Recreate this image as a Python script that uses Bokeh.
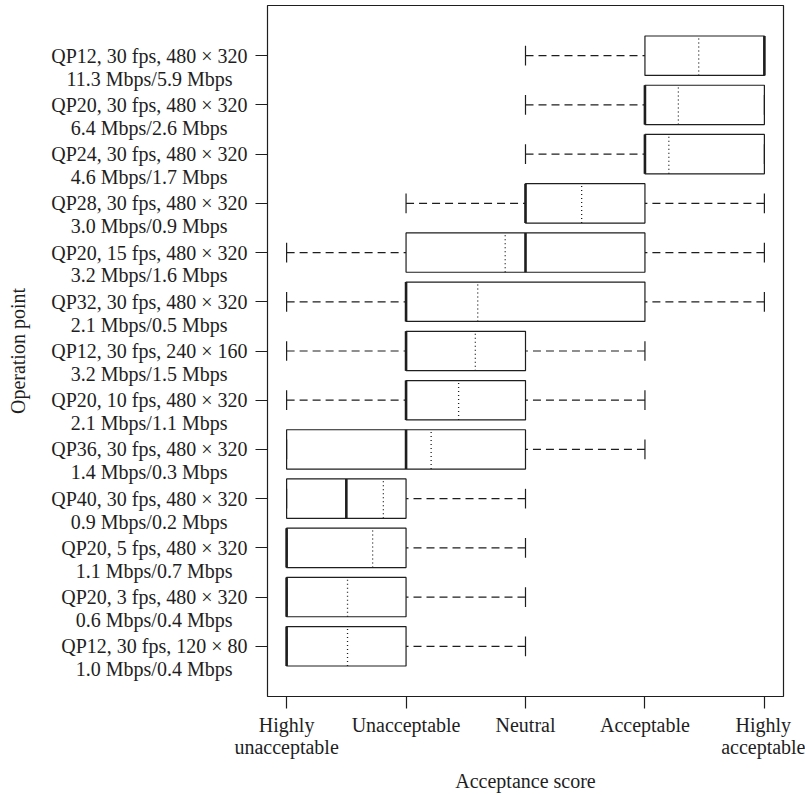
from bokeh.plotting import figure
from bokeh.models import ColumnDataSource, FixedTicker, Range1d
from bokeh.embed import file_html
from bokeh.resources import INLINE

# Operation points, listed from the top row to the bottom row
op_points = [
    "QP12, 30 fps, 480 × 320",
    "QP20, 30 fps, 480 × 320",
    "QP24, 30 fps, 480 × 320",
    "QP28, 30 fps, 480 × 320",
    "QP20, 15 fps, 480 × 320",
    "QP32, 30 fps, 480 × 320",
    "QP12, 30 fps, 240 × 160",
    "QP20, 10 fps, 480 × 320",
    "QP36, 30 fps, 480 × 320",
    "QP40, 30 fps, 480 × 320",
    "QP20, 5 fps, 480 × 320",
    "QP20, 3 fps, 480 × 320",
    "QP12, 30 fps, 120 × 80",
]
bitrates = [
    "11.3 Mbps/5.9 Mbps",
    "6.4 Mbps/2.6 Mbps",
    "4.6 Mbps/1.7 Mbps",
    "3.0 Mbps/0.9 Mbps",
    "3.2 Mbps/1.6 Mbps",
    "2.1 Mbps/0.5 Mbps",
    "3.2 Mbps/1.5 Mbps",
    "2.1 Mbps/1.1 Mbps",
    "1.4 Mbps/0.3 Mbps",
    "0.9 Mbps/0.2 Mbps",
    "1.1 Mbps/0.7 Mbps",
    "0.6 Mbps/0.4 Mbps",
    "1.0 Mbps/0.4 Mbps",
]

# Box-plot statistics of the acceptance score (1 = highly unacceptable ... 5 = highly acceptable)
score_min = [3, 3, 3, 2, 1, 1, 1, 1, 1, 1, 1, 1, 1]
score_q1 = [4, 4, 4, 3, 2, 2, 2, 2, 1, 1, 1, 1, 1]
score_median = [5, 4, 4, 3, 3, 2, 2, 2, 2, 1.5, 1, 1, 1]
score_q3 = [5, 5, 5, 4, 4, 4, 3, 3, 3, 2, 2, 2, 2]
score_max = [5, 5, 5, 5, 5, 5, 4, 4, 4, 3, 3, 3, 3]
score_mean = [4.45, 4.28, 4.2, 3.47, 2.83, 2.6, 2.58, 2.44, 2.21, 1.81, 1.72, 1.51, 1.51]

score_ticks = [1, 2, 3, 4, 5]
score_names = ["Highly\nunacceptable", "Unacceptable", "Neutral", "Acceptable", "Highly\nacceptable"]

FONT = "Liberation Serif"
INK = "#1e1e1e"
BOX_H = 0.8   # box thickness in row units
CAP_H = 0.4   # whisker end-cap length in row units

# Advance widths (1/1000 em) of the Times-metric serif, used to centre the
# second label line under the first one (axis labels are right-justified).
ADV = {**{d: 500 for d in "0123456789"}, " ": 250, ",": 250, ".": 250, "/": 278,
       "M": 889, "b": 500, "p": 500, "s": 389, "Q": 722, "P": 556, "f": 333, "×": 564}


def centred_under(first, second):
    w1 = sum(ADV.get(c, 500) for c in first)
    w2 = sum(ADV.get(c, 500) for c in second)
    pad = max(int(round((w1 - w2) / 2 / 250)), 0)
    return second + "\u00a0" * pad


n = len(op_points)
rows = list(range(n, 0, -1))  # first operation point sits on top

src = ColumnDataSource(dict(
    y=rows,
    lo=score_min, q1=score_q1, med=score_median, q3=score_q3, hi=score_max, mean=score_mean,
    top=[r + BOX_H / 2 for r in rows], bot=[r - BOX_H / 2 for r in rows],
    cap_top=[r + CAP_H / 2 for r in rows], cap_bot=[r - CAP_H / 2 for r in rows],
))

p = figure(
    width=805, height=795,
    output_backend="svg", toolbar_location=None,
    x_range=Range1d(0.84, 5.16), y_range=Range1d(-0.02, n + 1.02),
    min_border_left=267, min_border_right=22, min_border_top=5, min_border_bottom=98,
)
p.background_fill_color = "white"
p.border_fill_color = "white"
p.outline_line_color = INK
p.outline_line_width = 1.2
p.xgrid.visible = False
p.ygrid.visible = False

# whiskers (dashed, drawn from the extreme towards the box)
p.segment(x0="lo", y0="y", x1="q1", y1="y", source=src,
          line_color=INK, line_width=1.2, line_dash="8 5")
p.segment(x0="hi", y0="y", x1="q3", y1="y", source=src,
          line_color=INK, line_width=1.2, line_dash="8 5")

# boxes
p.hbar(y="y", left="q1", right="q3", height=BOX_H, source=src,
       fill_color="white", line_color=INK, line_width=1.2)

# whisker end caps
p.segment(x0="lo", y0="cap_bot", x1="lo", y1="cap_top", source=src,
          line_color=INK, line_width=1.2)
p.segment(x0="hi", y0="cap_bot", x1="hi", y1="cap_top", source=src,
          line_color=INK, line_width=1.2)

# medians (solid, thick) and means (dotted)
p.segment(x0="med", y0="bot", x1="med", y1="top", source=src,
          line_color=INK, line_width=2.6)
p.segment(x0="mean", y0="bot", x1="mean", y1="top", source=src,
          line_color=INK, line_width=1.3, line_dash="1 3")

# axes
for ax in (p.xaxis[0], p.yaxis[0]):
    ax.axis_line_color = None
    ax.major_tick_line_color = INK
    ax.major_tick_line_width = 1.2
    ax.major_tick_in = 0
    ax.major_tick_out = 12
    ax.minor_tick_line_color = None
    ax.major_label_text_font = FONT
    ax.major_label_text_font_size = "20px"
    ax.major_label_text_color = INK
    ax.major_label_text_line_height = 1.04
    ax.axis_label_text_font = FONT
    ax.axis_label_text_font_size = "20px"
    ax.axis_label_text_font_style = "normal"
    ax.axis_label_text_color = INK

p.xaxis.ticker = FixedTicker(ticks=score_ticks)
p.xaxis.major_label_overrides = dict(zip(score_ticks, score_names))
p.xaxis.major_label_standoff = 5
p.xaxis.axis_label = "Acceptance score"
p.xaxis.axis_label_standoff = 9

p.yaxis.ticker = FixedTicker(ticks=rows)
# a leading empty line keeps the operation point itself level with its tick
p.yaxis.major_label_overrides = {
    r: "\n" + a + "\n" + centred_under(a, b) for r, a, b in zip(rows, op_points, bitrates)
}
p.yaxis.major_label_standoff = 8
p.yaxis.axis_label = "Operation point"
p.yaxis.axis_label_standoff = 19

open("out.html", "w").write(file_html(p, INLINE))
